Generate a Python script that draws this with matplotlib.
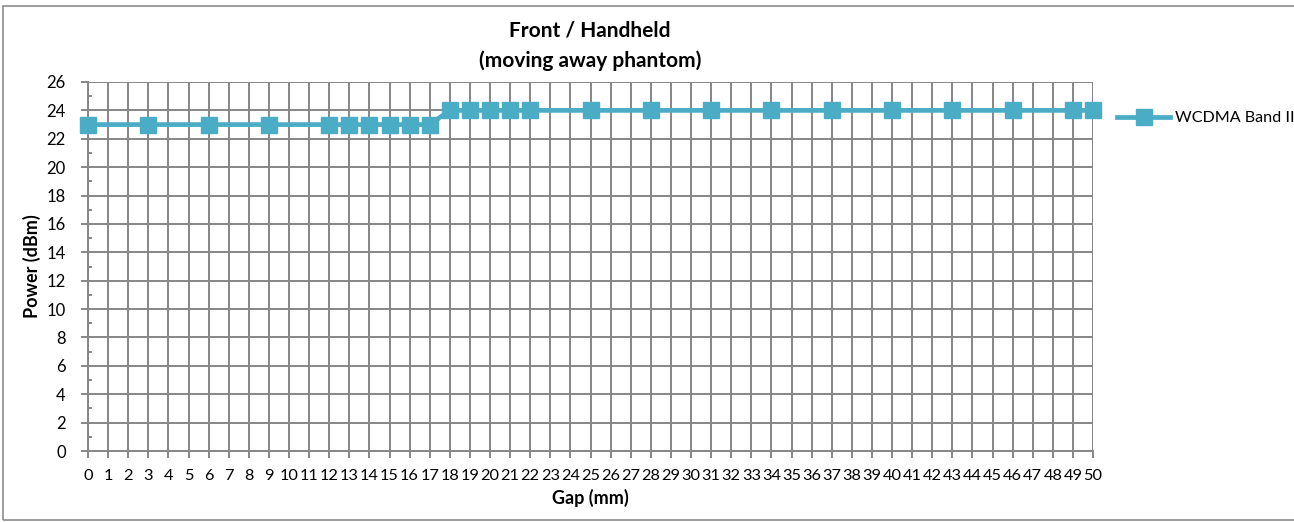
import matplotlib
matplotlib.use("Agg")
import matplotlib.pyplot as plt
from matplotlib.patches import Rectangle
from matplotlib.lines import Line2D

gap_mm = [0, 3, 6, 9, 12, 13, 14, 15, 16, 17, 18, 19, 20, 21, 22, 25, 28, 31, 34, 37, 40, 43, 46, 49, 50]
power_dbm = [23, 23, 23, 23, 23, 23, 23, 23, 23, 23, 24, 24, 24, 24, 24, 24, 24, 24, 24, 24, 24, 24, 24, 24, 24]
x_ticks = list(range(0, 51))
y_ticks = list(range(0, 27, 2))
series_name = "WCDMA Band II"
title = "Front / Handheld\n(moving away phantom)"

plt.rcParams['font.family'] = ['Lato', 'DejaVu Sans']

W, H = 1294, 522
fig = plt.figure(figsize=(W / 100, H / 100), dpi=100)
fig.patch.set_facecolor('white')

# outer chart border
fig.patches.append(Rectangle((3 / W, 1 - 520 / H), 1.2, (520 - 6) / H, transform=fig.transFigure,
                             fill=False, edgecolor='#8c8c8c', linewidth=1.2))

ax = fig.add_axes([88 / W, 1 - 451 / H, (1093 - 88) / W, (451 - 82) / H])
color = '#4BACC6'
grid_c = '#868686'

ax.plot(gap_mm, power_dbm, color=color, linewidth=3.4, marker='s', markersize=11,
        markeredgecolor=color, clip_on=False, zorder=5)

ax.set_xlim(0, 50)
ax.set_ylim(0, 26)
ax.set_xticks(x_ticks)
ax.set_xticklabels([str(v) for v in x_ticks], fontsize=11.8)
ax.set_yticks(y_ticks)
ax.set_yticklabels([str(v) for v in y_ticks], fontsize=12)
ax.set_yticks(list(range(1, 26, 2)), minor=True)
ax.grid(True, which='major', color=grid_c, linewidth=1.4)
ax.set_axisbelow(True)
for s in ['top', 'right']:
    ax.spines[s].set_visible(False)
for s in ['left', 'bottom']:
    ax.spines[s].set_color(grid_c)
    ax.spines[s].set_linewidth(1.4)
ax.tick_params(axis='x', which='major', direction='out', length=5, width=1.4, color=grid_c, pad=8)
ax.tick_params(axis='y', which='major', direction='out', length=5, width=1.4, color=grid_c, pad=11)
ax.tick_params(axis='y', which='minor', direction='in', length=3, width=1.4, color=grid_c)
ax.axvline(50, color=grid_c, linewidth=1.4, zorder=0.5)

ax.set_xlabel('Gap (mm)', fontsize=13, fontweight='bold', labelpad=4)
ax.set_ylabel('Power (dBm)', fontsize=13, fontweight='bold', labelpad=4)
fig.text(590 / W, 1 - 46 / H, title, ha='center', va='center', fontsize=15, fontweight='bold',
         linespacing=1.6)

# legend
handle = Line2D([], [], color=color, linewidth=3.4, marker='s', markersize=11, markeredgecolor=color)
leg = fig.legend([handle], [series_name], loc='center left', bbox_to_anchor=(1117 / W, 1 - 118 / H),
                 frameon=False, fontsize=11.6, handlelength=3.3, handletextpad=0.3,
                 borderaxespad=0, borderpad=0)

fig.savefig('out.png', dpi=100)
